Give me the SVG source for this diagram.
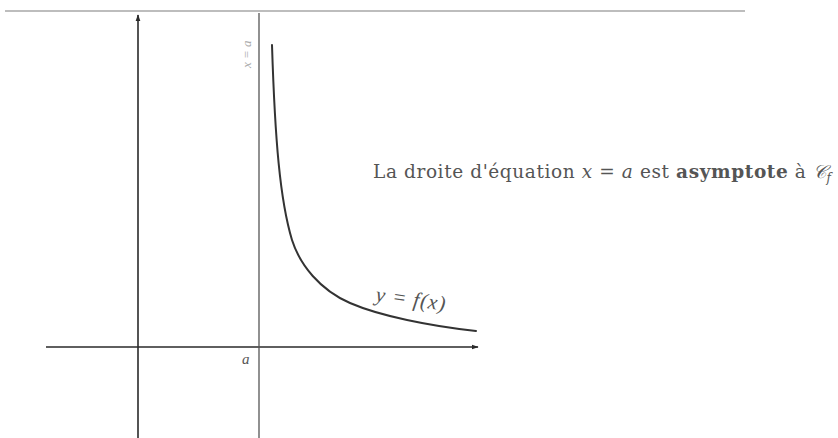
<svg xmlns="http://www.w3.org/2000/svg" width="838" height="438" viewBox="0 0 838 438">
<defs>
<style>
.axis{stroke:#2a2a2a;stroke-width:1.6;fill:none}
.asym{stroke:#555;stroke-width:1.3;fill:none}
.curve{stroke:#333;stroke-width:2;fill:none;stroke-linecap:round}
.lbl{font-family:"Liberation Serif","DejaVu Serif",serif;fill:#555}
.cap{font-family:"DejaVu Serif","Liberation Serif",serif;fill:#555}
.it{font-style:italic}
</style>
<marker id="arr" viewBox="0 0 10 10" refX="9" refY="5" markerWidth="7" markerHeight="7" orient="auto" markerUnits="userSpaceOnUse">
<path d="M0,1.5 L10,5 L0,8.5 Z" fill="#2a2a2a"/>
</marker>
</defs>
<rect width="838" height="438" fill="#fff"/>
<line x1="5" y1="11" x2="745" y2="11" stroke="#bdbdbd" stroke-width="2"/>
<g id="connectors">
<line id="y-axis" class="axis" x1="138" y1="438" x2="138" y2="15" marker-end="url(#arr)"/>
<line id="x-axis" class="axis" x1="46" y1="347" x2="478" y2="347" marker-end="url(#arr)"/>
<line id="asymptote" class="asym" x1="259" y1="13" x2="259" y2="438"/>
</g>
<g id="curve">
<path class="curve" d="M272,45 C275,140 280,200 292,240 C300,265 320,290 350,303 C380,316 430,326 476,331"/>
</g>
<g id="label-asym">
<text class="lbl it" font-size="13" transform="translate(251,68) rotate(-90)" style="fill:#aaa">x = a</text>
</g>
<g id="label-a">
<text class="lbl it" x="242" y="364" font-size="15">a</text>
</g>
<g id="label-f">
<text class="lbl it" font-size="21" letter-spacing="1" transform="translate(375,301) rotate(8)">y = f(x)</text>
</g>
<g id="caption">
<text class="cap" x="373" y="178" font-size="18.5" textLength="458" lengthAdjust="spacing">La droite d'équation <tspan class="it">x</tspan> = <tspan class="it">a</tspan> est <tspan font-weight="bold">asymptote</tspan> à <tspan class="it">𝒞</tspan><tspan class="it" font-size="12" dy="4">f</tspan></text>
</g>
</svg>
